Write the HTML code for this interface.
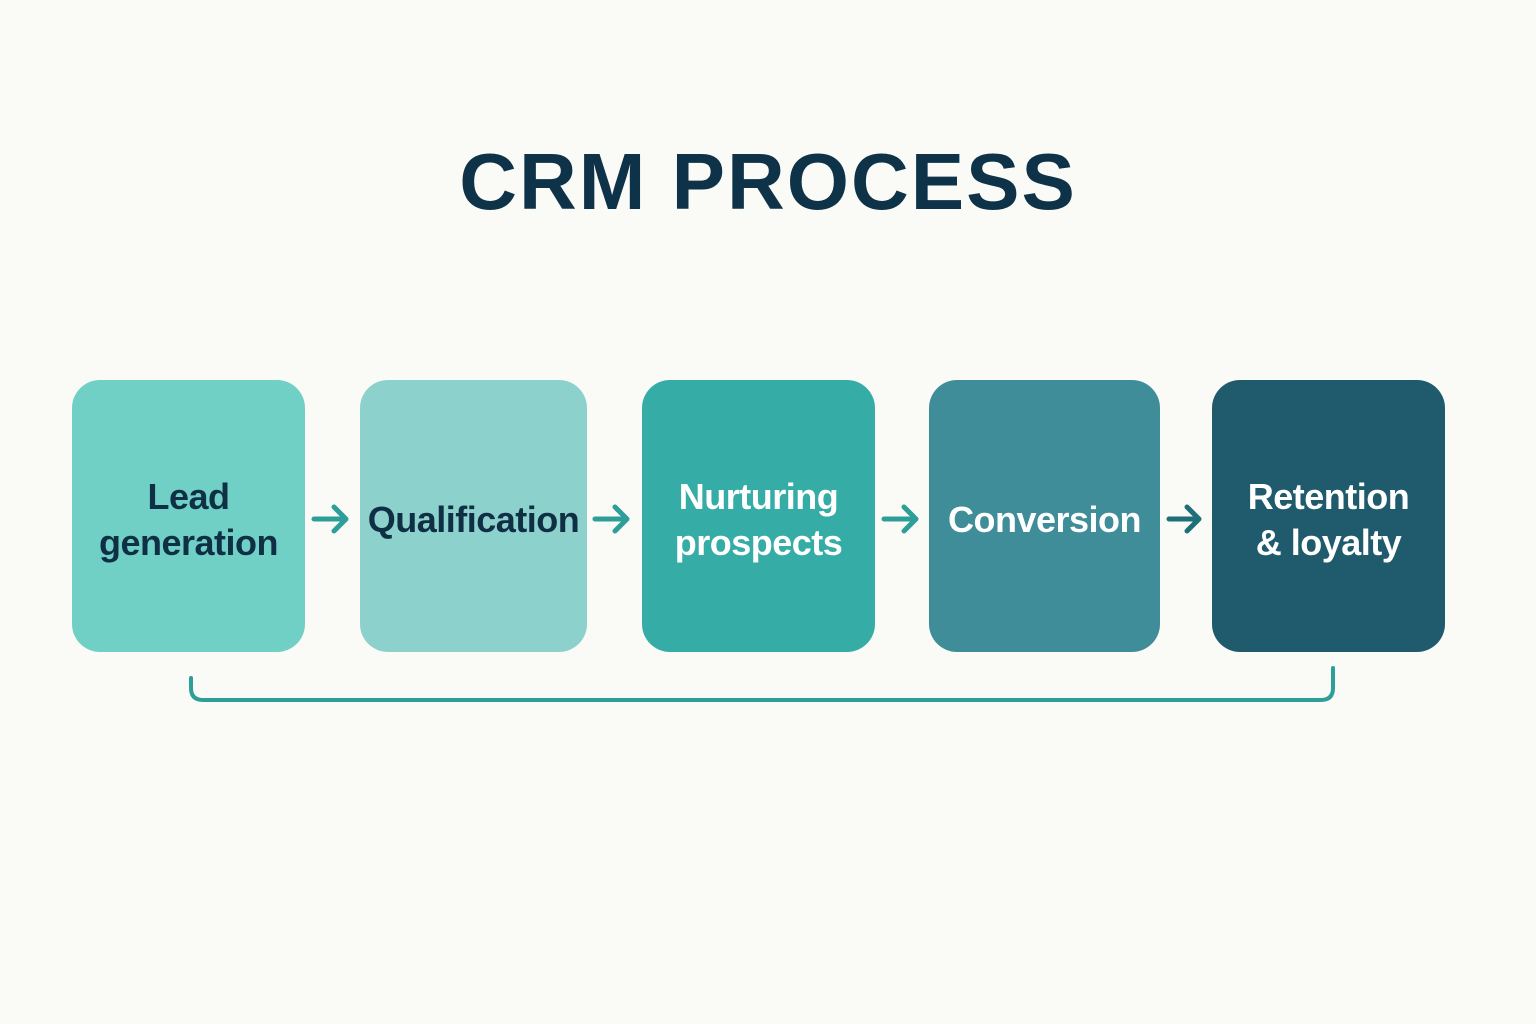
<!DOCTYPE html>
<html><head><meta charset="utf-8"><style>
body{margin:0;width:1536px;height:1024px;background:#fafaf7;position:relative;overflow:hidden;font-family:"Liberation Sans",sans-serif}
.t{position:absolute;left:0;width:1536px;top:136px;text-align:center;font-size:80px;font-weight:bold;color:#0e3248;letter-spacing:2px}
.b{position:absolute;top:380px;height:272px;border-radius:28px;display:flex;align-items:center;justify-content:center;text-align:center;font-size:36px;font-weight:bold;line-height:46px;letter-spacing:-0.5px;box-sizing:border-box;padding-top:8px}
</style></head><body>
<div class="t">CRM PROCESS</div>
<div class="b" style="left:72px;width:233px;background:#70d0c5;color:#0f2f45">Lead<br>generation</div>
<div class="b" style="left:360px;width:227px;background:#8dd1cc;color:#0f2f45">Qualification</div>
<div class="b" style="left:642px;width:233px;background:#35aca6;color:#fff">Nurturing<br>prospects</div>
<div class="b" style="left:929px;width:231px;background:#3e8d98;color:#fff">Conversion</div>
<div class="b" style="left:1212px;width:233px;background:#1f5b6c;color:#fff">Retention<br>&amp; loyalty</div>
<svg width="1536" height="1024" style="position:absolute;left:0;top:0" fill="none" stroke="#2e9e98" stroke-width="5" stroke-linecap="round" stroke-linejoin="round">
<g><path d="M314 519H346M334 507L346 519L334 531"/></g>
<g><path d="M595 519H627M615 507L627 519L615 531"/></g>
<g><path d="M884 519H916M904 507L916 519L904 531"/></g>
<g><path d="M1169 519H1199M1187 507L1199 519L1187 531" stroke="#1f6f78"/></g>
<path d="M191 678V688Q191 700 203 700H1321Q1333 700 1333 688V668" stroke-width="4"/>
</svg>
</body></html>
